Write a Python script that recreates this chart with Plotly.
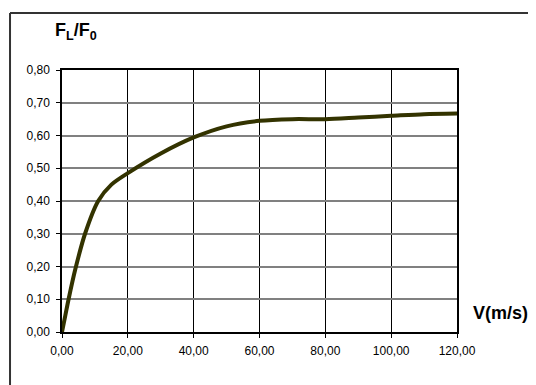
import plotly.graph_objects as go

velocity = [0, 1, 2, 4, 7, 11, 15, 20, 30, 40, 50, 60, 70, 80, 90, 100, 110, 120]
force_ratio = [0.0, 0.05, 0.10, 0.19, 0.30, 0.40, 0.45, 0.485, 0.545, 0.594, 0.628, 0.645, 0.65, 0.65, 0.655, 0.66, 0.665, 0.667]

x_ticks = [0, 20, 40, 60, 80, 100, 120]
x_tick_labels = ["0,00", "20,00", "40,00", "60,00", "80,00", "100,00", "120,00"]
y_ticks = [0, 0.1, 0.2, 0.3, 0.4, 0.5, 0.6, 0.7, 0.8]
y_tick_labels = ["0,00", "0,10", "0,20", "0,30", "0,40", "0,50", "0,60", "0,70", "0,80"]

fig = go.Figure()
fig.add_trace(go.Scatter(
    x=velocity, y=force_ratio, mode="lines",
    line=dict(color="#333300", width=4, shape="spline", smoothing=0.8),
    hoverinfo="skip", showlegend=False,
))

fig.update_layout(
    width=528, height=377,
    margin=dict(l=54, r=79, t=62, b=53),
    paper_bgcolor="white", plot_bgcolor="white",
    font=dict(family="Arial, Liberation Sans, sans-serif", size=12, color="black"),
    xaxis=dict(
        range=[0, 120], tickvals=x_ticks, ticktext=x_tick_labels,
        showgrid=True, gridcolor="black", gridwidth=1,
        showline=True, linecolor="black", linewidth=1.5, mirror=True,
        ticks="outside", ticklen=4, tickcolor="black", zeroline=False,
        ticklabelstandoff=3,
    ),
    yaxis=dict(
        range=[0, 0.8], tickvals=y_ticks, ticktext=y_tick_labels,
        showgrid=True, gridcolor="#808080", gridwidth=1.5,
        showline=True, linecolor="black", linewidth=1.5, mirror=True,
        ticks="outside", ticklen=4, tickcolor="black", zeroline=False,
        ticklabelstandoff=4,
    ),
    shapes=[
        dict(type="line", xref="paper", yref="paper",
             x0=-0.1316, x1=1.2, y0=1.2176, y1=1.2176,
             line=dict(color="#333333", width=2), layer="below"),
        dict(type="line", xref="paper", yref="paper",
             x0=-0.1316, x1=-0.1316, y0=-0.3, y1=1.2176,
             line=dict(color="#333333", width=2), layer="below"),
    ],
    annotations=[
        dict(text="<b>F<sub>L</sub>/F<sub>0</sub></b>", xref="paper", yref="paper",
             x=(53 - 62) / 395, y=(332 - 45) / 262, xanchor="left", yanchor="bottom",
             showarrow=False, font=dict(size=18)),
        dict(text="<b>V(m/s)</b>", xref="paper", yref="paper",
             x=(471 - 62) / 395, y=(332 - 313) / 262, xanchor="left", yanchor="middle",
             showarrow=False, font=dict(size=18)),
    ],
)

fig.write_html("out.html", config={"displayModeBar": False})
